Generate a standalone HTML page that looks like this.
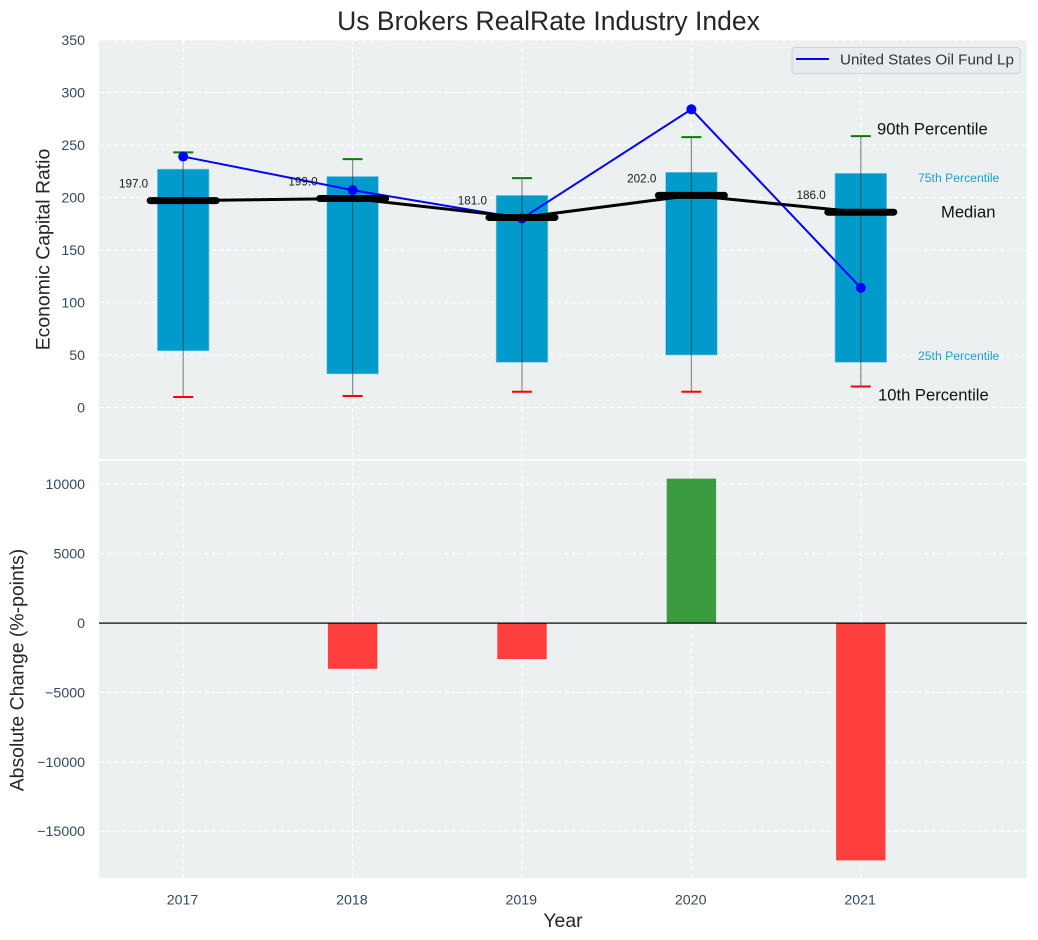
<!DOCTYPE html>
<html>
<head>
<meta charset="utf-8">
<title>Us Brokers RealRate Industry Index</title>
<style>
html,body{margin:0;padding:0;background:#fff;}
svg{display:block;font-family:"Liberation Sans",Arial,sans-serif;}
</style>
</head>
<body>
<svg id="chart" width="1038" height="940" viewBox="0 0 1038 940" xmlns="http://www.w3.org/2000/svg"></svg>
<script>
const years = [2017, 2018, 2019, 2020, 2021];
const p90 = [243, 236.5, 218.5, 257.5, 258.5];
const p75 = [227, 220, 202, 224, 223];
const medians = [197, 199, 181, 202, 186];
const p25 = [54, 32, 43, 50, 43];
const p10 = [10, 11, 15, 15, 20];
const fundValues = [239, 207, 180, 284, 114];
const changes = [0, -3300, -2600, 10400, -17100];
const topTicks = [0, 50, 100, 150, 200, 250, 300, 350];
const bottomTicks = [-15000, -10000, -5000, 0, 5000, 10000];

const svg = document.getElementById('chart');
const NS = 'http://www.w3.org/2000/svg';
const xPos = v => 183.2 + (v - 2017) * 169.4;
const yTop = v => 407.5 - v * 1.05;
const yBottom = v => 623 - v * 0.01388;

function make(tag, attrs, text) {
  const el = document.createElementNS(NS, tag);
  for (const k in attrs) el.setAttribute(k, attrs[k]);
  if (text !== undefined) el.textContent = text;
  svg.appendChild(el);
  return el;
}
function meta(el, name) {
  
  
  return el;
}
const formatTick = v => (v < 0 ? '\u2212' + Math.abs(v) : String(v));

/* panels */
meta(make('rect', {x: 99, y: 40, width: 928, height: 419, fill: '#ecf0f1'}), 'top-panel');
meta(make('rect', {x: 99, y: 461, width: 928, height: 417, fill: '#ecf0f1'}), 'bottom-panel');

/* grid */
const gridStyle = {stroke: '#ffffff', 'stroke-width': 1.1, 'stroke-dasharray': '5 2.5', opacity: 0.9};
topTicks.forEach(t => {
  const g = make('line', Object.assign({x1: 99, x2: 1027, y1: yTop(t), y2: yTop(t)}, gridStyle));
  meta(g, 'top-grid-line-' + t);
  const l = make('text', {x: 85, y: yTop(t) + 5, 'text-anchor': 'end', 'font-size': 14.2, fill: '#34495e'}, formatTick(t));
  meta(l, 'top-y-tick-' + t);
});
bottomTicks.forEach(t => {
  const g = make('line', Object.assign({x1: 99, x2: 1027, y1: yBottom(t), y2: yBottom(t)}, gridStyle));
  meta(g, 'bottom-grid-line-' + t);
  const l = make('text', {x: 85, y: yBottom(t) + 5, 'text-anchor': 'end', 'font-size': 14.2, fill: '#34495e'}, formatTick(t));
  meta(l, 'bottom-y-tick-' + t);
});
years.forEach(y => {
  const g1 = make('line', Object.assign({x1: xPos(y), x2: xPos(y), y1: 40, y2: 459}, gridStyle));
  meta(g1, 'top-vertical-grid-' + y);
  const g2 = make('line', Object.assign({x1: xPos(y), x2: xPos(y), y1: 461, y2: 878}, gridStyle));
  meta(g2, 'bottom-vertical-grid-' + y);
  const l = make('text', {x: xPos(y) - 0.7, y: 904.5, 'text-anchor': 'middle', 'font-size': 14.2, fill: '#34495e'}, String(y));
  meta(l, 'x-tick-' + y);
});

/* boxes and whiskers */
years.forEach((y, i) => {
  const x = xPos(y);
  const box = make('rect', {x: x - 25.8, y: yTop(p75[i]), width: 51.6, height: yTop(p25[i]) - yTop(p75[i]), fill: '#009bcb', stroke: '#7fcde5', 'stroke-width': 0.6});
  meta(box, 'iqr-box-' + y);
  const w = make('line', {x1: x, x2: x, y1: yTop(p90[i]), y2: yTop(p10[i]), stroke: '#333', 'stroke-opacity': 0.55, 'stroke-width': 1.2});
  meta(w, 'whisker-' + y);
  const hi = make('line', {x1: x - 10, x2: x + 10, y1: yTop(p90[i]), y2: yTop(p90[i]), stroke: '#008000', 'stroke-width': 2});
  meta(hi, 'p90-cap-' + y);
  const lo = make('line', {x1: x - 10, x2: x + 10, y1: yTop(p10[i]), y2: yTop(p10[i]), stroke: '#ff0000', 'stroke-width': 2});
  meta(lo, 'p10-cap-' + y);
});

/* fund series */
const fundPts = years.map((y, i) => xPos(y) + ',' + yTop(fundValues[i])).join(' ');
meta(make('polyline', {points: fundPts, fill: 'none', stroke: '#0000ff', 'stroke-width': 2}), 'fund-line');
years.forEach((y, i) => {
  const c = make('circle', {cx: xPos(y), cy: yTop(fundValues[i]), r: 5, fill: '#0000ff'});
  meta(c, 'fund-point-' + y);
});

/* median series */
const medPts = years.map((y, i) => xPos(y) + ',' + yTop(medians[i])).join(' ');
meta(make('polyline', {points: medPts, fill: 'none', stroke: '#000', 'stroke-width': 3}), 'median-line');
years.forEach((y, i) => {
  const x = xPos(y);
  const m = make('line', {x1: x - 33, x2: x + 33, y1: yTop(medians[i]), y2: yTop(medians[i]), stroke: '#000', 'stroke-width': 7, 'stroke-linecap': 'round'});
  meta(m, 'median-bar-' + y);
  const t = make('text', {x: x - 35, y: yTop(medians[i]) - 13, 'text-anchor': 'end', 'font-size': 11.7, fill: '#1a1a1a'}, medians[i].toFixed(1));
  meta(t, 'median-label-' + y);
});

/* percentile annotations */
meta(make('text', {x: 877, y: 134.5, 'font-size': 16.6, fill: '#111'}, '90th Percentile'), 'annotation-90th');
meta(make('text', {x: 918, y: 182, 'font-size': 12.2, fill: '#1ea0cf'}, '75th Percentile'), 'annotation-75th');
meta(make('text', {x: 941, y: 217.5, 'font-size': 16.6, fill: '#111'}, 'Median'), 'annotation-median');
meta(make('text', {x: 918, y: 360, 'font-size': 12.2, fill: '#1ea0cf'}, '25th Percentile'), 'annotation-25th');
meta(make('text', {x: 878, y: 400.5, 'font-size': 16.6, fill: '#111'}, '10th Percentile'), 'annotation-10th');

/* legend */
const legendBox = make('rect', {x: 792, y: 47.5, width: 228, height: 26, rx: 3, fill: '#e8ebf0', stroke: '#cfd2d6', 'stroke-width': 1});
meta(legendBox, 'legend-box');
meta(make('line', {x1: 796, x2: 829, y1: 59, y2: 59, stroke: '#0000ff', 'stroke-width': 2}), 'legend-line');
meta(make('text', {x: 840, y: 64.7, 'font-size': 15.2, fill: '#333'}, 'United States Oil Fund Lp'), 'legend-entry');

/* change bars */
years.forEach((y, i) => {
  const v = changes[i];
  if (v === 0) return;
  const top = Math.min(yBottom(v), yBottom(0));
  const h = Math.abs(yBottom(v) - yBottom(0));
  const b = make('rect', {x: xPos(y) - 24.7, y: top, width: 49.4, height: h, fill: v > 0 ? '#3b9c3f' : '#ff3e3e'});
  meta(b, 'change-bar-' + y);
});
meta(make('rect', {x: 99, y: yBottom(0) - 0.5, width: 928, height: 1.2, fill: '#000'}), 'zero-line');

/* titles */
meta(make('text', {x: 548.5, y: 30, 'text-anchor': 'middle', 'font-size': 26.5, fill: '#262626'}, 'Us Brokers RealRate Industry Index'), 'chart-title');
meta(make('text', {x: 563, y: 927, 'text-anchor': 'middle', 'font-size': 19.4, fill: '#262626'}, 'Year'), 'x-axis-title');
meta(make('text', {x: 0, y: 0, transform: 'translate(49.5,249.5) rotate(-90)', 'text-anchor': 'middle', 'font-size': 19.4, fill: '#262626'}, 'Economic Capital Ratio'), 'top-y-axis-title');
meta(make('text', {x: 0, y: 0, transform: 'translate(23.5,670) rotate(-90)', 'text-anchor': 'middle', 'font-size': 19.4, fill: '#262626'}, 'Absolute Change (%-points)'), 'bottom-y-axis-title');
</script>
</body>
</html>
